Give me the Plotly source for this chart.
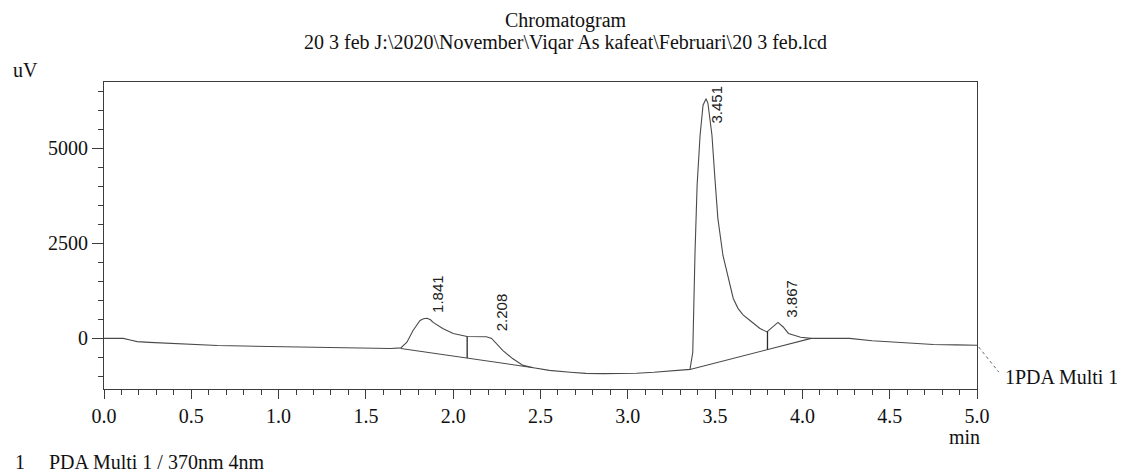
import numpy as np
import plotly.graph_objects as go

# ---- data ----
time_min = [0.00, 0.11, 0.15, 0.19, 0.26, 0.36, 0.50, 0.65, 0.80, 0.93, 1.12, 1.25, 1.41, 1.55,
            1.64, 1.70, 1.735, 1.77, 1.81, 1.83, 1.85, 1.87, 1.885, 1.94, 2.00, 2.08, 2.14, 2.19,
            2.22, 2.285, 2.34, 2.40, 2.46, 2.55, 2.67, 2.76, 2.86, 2.96, 3.05, 3.15, 3.25, 3.32,
            3.356, 3.372, 3.376, 3.385, 3.397, 3.414, 3.431, 3.448, 3.459, 3.482, 3.499, 3.516,
            3.545, 3.585, 3.604, 3.631, 3.66, 3.70, 3.757, 3.797, 3.83, 3.86, 3.89, 3.92, 3.99,
            4.05, 4.15, 4.27, 4.40, 4.52, 4.65, 4.75, 4.88, 5.00]
signal_uv = [0, 0, -40, -85, -105, -130, -160, -185, -200, -210, -237, -250, -263, -265,
             -265, -250, -100, 210, 470, 515, 530, 490, 420, 260, 130, 50, 45, 45,
             0, -320, -530, -710, -770, -840, -890, -920, -925, -920, -915, -890, -860, -840,
             -815, -370, 530, 2260, 4030, 5340, 6130, 6300, 6180, 5340, 4200, 3150,
             2180, 1390, 1050, 790, 620, 470, 260, 170, 300, 420, 300, 130, 30,
             0, 0, 0, -60, -100, -130, -160, -170, -180]

peak_rt = [1.841, 2.208, 3.451, 3.867]
peak_labels = ["1.841", "2.208", "3.451", "3.867"]

baseline_t0 = [1.70, 3.356]
baseline_v0 = [-265, -815]
baseline_t1 = [2.46, 4.05]
baseline_v1 = [-770, 0]
drop_t = [2.08, 3.80]

x_ticks = [0.0, 0.5, 1.0, 1.5, 2.0, 2.5, 3.0, 3.5, 4.0, 4.5, 5.0]
x_tick_text = ["0.0", "0.5", "1.0", "1.5", "2.0", "2.5", "3.0", "3.5", "4.0", "4.5", "5.0"]
y_ticks = [0, 2500, 5000]
y_tick_text = ["0", "2500", "5000"]

title_text = "Chromatogram"
subtitle_text = r"20 3 feb J:\2020\November\Viqar As kafeat\Februari\20 3 feb.lcd"
channel_text = "1PDA Multi 1"
footer_num = "1"
footer_text = "PDA Multi 1 / 370nm 4nm"

# ---- styling ----
LINE = "#4a4a4a"
AXIS = "#3c3c3c"
TXT = "#111111"
SERIF = "Liberation Serif, Times New Roman, serif"
SANS = "Liberation Sans, Arial, sans-serif"
Y_RANGE = [-1330, 6740]
X_RANGE = [0, 5.0]
PLOT_H = 307

t = np.array(time_min, dtype=float)
s = np.array(signal_uv, dtype=float)

fig = go.Figure()
fig.add_trace(go.Scatter(x=t, y=s, mode="lines", line=dict(color=LINE, width=1.1),
                         hoverinfo="skip", showlegend=False))

# integration baselines
bx, by = [], []
for a, va, b, vb in zip(baseline_t0, baseline_v0, baseline_t1, baseline_v1):
    bx += [a, b, None]
    by += [va, vb, None]
fig.add_trace(go.Scatter(x=bx, y=by, mode="lines", line=dict(color=LINE, width=1.1),
                         hoverinfo="skip", showlegend=False))

# drop lines
dx, dy = [], []
for d in drop_t:
    top = float(np.interp(d, t, s))
    bot = None
    for a, va, b, vb in zip(baseline_t0, baseline_v0, baseline_t1, baseline_v1):
        if a <= d <= b:
            bot = va + (vb - va) * (d - a) / (b - a)
    dx += [d, d, None]
    dy += [top, bot, None]
fig.add_trace(go.Scatter(x=dx, y=dy, mode="lines", line=dict(color="#2a2a2a", width=1.3),
                         hoverinfo="skip", showlegend=False))

ppu = PLOT_H / (Y_RANGE[1] - Y_RANGE[0])
annotations = []
label_len = 38
for rt, lab in zip(peak_rt, peak_labels):
    v = float(np.interp(rt, t, s))
    if (Y_RANGE[1] - v) * ppu < label_len + 8:
        annotations.append(dict(x=rt, y=Y_RANGE[1], xref="x", yref="y", text=lab,
                                textangle=-90, showarrow=False, xanchor="center",
                                yanchor="top", xshift=9, yshift=-2,
                                font=dict(family=SANS, size=15, color="#222")))
    else:
        annotations.append(dict(x=rt, y=v, xref="x", yref="y", text=lab,
                                textangle=-90, showarrow=False, xanchor="center",
                                yanchor="bottom", xshift=12, yshift=4,
                                font=dict(family=SANS, size=15, color="#222")))

annotations += [
    dict(x=0.529, y=1.241, xref="paper", yref="paper", text=title_text, showarrow=False,
         xanchor="center", yanchor="top", borderpad=0,
         font=dict(family=SERIF, size=20, color=TXT)),
    dict(x=0.529, y=1.130, xref="paper", yref="paper", text=subtitle_text, showarrow=False,
         xanchor="center", yanchor="middle", font=dict(family=SERIF, size=20, color=TXT)),
    dict(x=-0.106, y=1.039, xref="paper", yref="paper", text="uV", showarrow=False,
         xanchor="left", yanchor="middle", font=dict(family=SERIF, size=20, color=TXT)),
    dict(x=0.986, y=-0.156, xref="paper", yref="paper", text="min", showarrow=False,
         xanchor="center", yanchor="middle", font=dict(family=SERIF, size=20, color=TXT)),
    dict(x=1.0298, y=0.039, xref="paper", yref="paper", text=channel_text, showarrow=False,
         xanchor="left", yanchor="middle", font=dict(family=SERIF, size=20, color=TXT)),
    dict(x=-0.104, y=-0.238, xref="paper", yref="paper", text=footer_num, showarrow=False,
         xanchor="left", yanchor="middle", font=dict(family=SERIF, size=20, color=TXT)),
    dict(x=-0.0653, y=-0.238, xref="paper", yref="paper", text=footer_text, showarrow=False,
         xanchor="left", yanchor="middle", font=dict(family=SERIF, size=20, color=TXT)),
]

# dotted leader from trace end to channel label
end_v = float(s[-1])
y0p = (end_v - Y_RANGE[0]) / (Y_RANGE[1] - Y_RANGE[0])
shapes = [dict(type="line", xref="paper", yref="paper", x0=1.002, y0=y0p - 0.006,
               x1=1.025, y1=0.055, line=dict(color="#666", width=1, dash="dot"))]

axis_common = dict(showgrid=False, zeroline=False, showline=True, linecolor=AXIS,
                   linewidth=1.2, mirror=True, ticks="outside", tickcolor=AXIS, tickwidth=1,
                   tickfont=dict(family=SERIF, size=20, color=TXT))

# the page body adds an 8px offset, so the figure is 8px smaller and margins shifted
fig.update_layout(
    width=1117, height=468,
    margin=dict(l=96, r=148, t=74, b=87),
    paper_bgcolor="white", plot_bgcolor="white",
    showlegend=False, hovermode=False,
    annotations=annotations, shapes=shapes,
    xaxis=dict(range=X_RANGE, tickvals=x_ticks, ticktext=x_tick_text, ticklen=9,
               minor=dict(dtick=0.1, tick0=0, ticks="outside", ticklen=5, tickcolor=AXIS,
                          showgrid=False),
               **axis_common),
    yaxis=dict(range=Y_RANGE, tickvals=y_ticks, ticktext=y_tick_text, ticklen=11,
               minor=dict(dtick=500, tick0=0, ticks="outside", ticklen=5, tickcolor=AXIS,
                          showgrid=False),
               **axis_common),
)

fig.write_html("out.html", config={"displayModeBar": False})
